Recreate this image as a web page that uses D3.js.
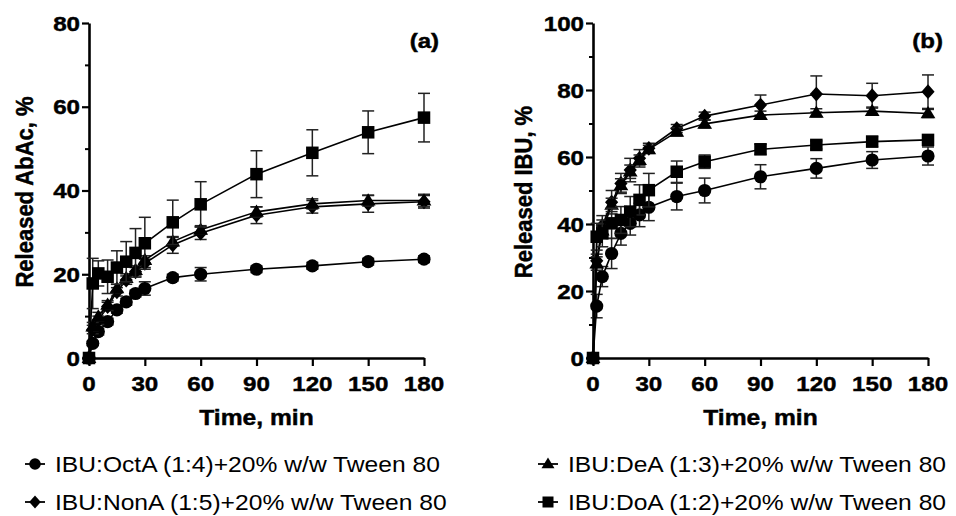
<!DOCTYPE html>
<html>
<head>
<meta charset="utf-8">
<style>
  body { margin: 0; background: #fff; }
  svg { display: block; background: #fff; font-family: "Liberation Sans", Arial, sans-serif; }
</style>
</head>
<body>
<div id="chart"></div>
<script src="https://d3js.org/d3.v7.min.js"></script>
<script>
// sampling times, min
var times = [0, 2, 5, 10, 15, 20, 25, 30, 45, 60, 90, 120, 150, 180];

// panel (a): released AbAc, %
var octA_a = [0, 3.5, 6.3, 8.7, 11.5, 13.4, 15.4, 16.6, 19.2, 20.0, 21.2, 22.0, 23.0, 23.6];
var octA_a_sd = [0, 0.5, 0.8, 0.8, 0.8, 0.8, 0.8, 1.6, 0.8, 1.6, 0.8, 0.8, 0.8, 0.8];
var nonA_a = [0, 6.8, 9.0, 12.3, 15.8, 18.6, 20.6, 22.6, 27.0, 29.8, 34.1, 36.1, 36.8, 37.3];
var nonA_a_sd = [0, 1, 1, 1, 1, 1, 1, 1, 2, 1.5, 2, 1.5, 2, 1.5];
var deA_a = [0, 7.5, 9.9, 12.7, 16.6, 19.1, 21.0, 23.4, 27.8, 30.6, 34.9, 36.8, 37.6, 37.6];
var deA_a_sd = [0, 1, 1, 1, 1, 1, 1, 1, 1, 1, 1.2, 1.2, 1.3, 1.5];
var doA_a = [0, 17.8, 20.2, 19.4, 21.6, 23.0, 25.1, 27.4, 32.4, 36.7, 43.9, 49.0, 53.9, 57.4];
var doA_a_sd = [0, 6, 3, 4, 4, 4.8, 5.8, 6.2, 5.3, 5.4, 5.6, 5.5, 5.1, 5.8];

// panel (b): released IBU, %
var octA_b = [0, 15.5, 24.3, 31.2, 37.2, 40.2, 42.7, 45.0, 48.2, 50.0, 54.1, 56.6, 59.1, 60.3];
var octA_b_sd = [0, 3.5, 3, 4.5, 3.5, 3.5, 3.5, 4, 4, 3.7, 3.6, 2.9, 2.5, 2.7];
var nonA_b = [0, 29, 39.5, 46.5, 52.1, 56.1, 59.6, 62.6, 68.5, 72.2, 75.5, 78.8, 78.3, 79.5];
var nonA_b_sd = [0, 2, 3, 3.5, 3, 3.5, 2.6, 1.5, 1.2, 1.2, 3, 5.4, 3.7, 5];
var deA_b = [0, 28.2, 38, 45.7, 51.5, 55.6, 59.1, 62.3, 67.5, 69.9, 72.5, 73.2, 73.7, 73.0];
var deA_b_sd = [0, 2, 2, 2, 2, 2, 1.5, 1.2, 1.2, 1.2, 1.2, 1.2, 1.2, 1.2];
var doA_b = [0, 36.2, 37.2, 40.2, 41.2, 43.7, 47.2, 50.1, 55.6, 58.6, 62.3, 63.6, 64.6, 65.1];
var doA_b_sd = [0, 4, 4, 4.5, 4, 4.5, 4.5, 5, 3.2, 2, 1.5, 1.2, 1.5, 1.5];

var seriesNames = [
  "IBU:OctA (1:4)+20% w/w Tween 80",
  "IBU:NonA (1:5)+20% w/w Tween 80",
  "IBU:DeA (1:3)+20% w/w Tween 80",
  "IBU:DoA (1:2)+20% w/w Tween 80"
];
var seriesSymbols = ["circle", "diamond", "triangle", "square"];

var xTicks = [0, 30, 60, 90, 120, 150, 180];
var yTicksA = [0, 20, 40, 60, 80];
var yTicksB = [0, 20, 40, 60, 80, 100];

var width = 956, height = 516;
var svg = d3.select("#chart").append("svg")
  .attr("width", width)
  .attr("height", height);

// the source picture is a little wider than tall, so text gets stretched in x
function label(g, x, y, str, opt) {
  var sx = opt.sx || 1;
  var tr = "translate(" + x + "," + y + ") scale(" + sx + ",1)";
  if (opt.rotate) tr += " rotate(" + opt.rotate + ")";
  var t = g.append("text")
    .attr("transform", tr)
    .attr("text-anchor", opt.anchor || "start")
    .style("font-size", opt.size + "px")
    .style("font-weight", opt.bold ? "bold" : "normal")
    .attr("fill", "#000")
    .text(str);
  if (opt.bold) t.attr("stroke", "#000").attr("stroke-width", 0.45);
  return t;
}

function markerPath(kind, r) {
  if (kind == "circle") return d3.symbol(d3.symbolCircle, Math.PI * r * r)();
  if (kind == "square") return d3.symbol(d3.symbolSquare, 4 * r * r * 0.9)();
  if (kind == "triangle") {
    var h = r * 1.85, w = r * 1.12;
    return "M0," + (-h * 0.6) + "L" + w + "," + (h * 0.4) + "L" + (-w) + "," + (h * 0.4) + "Z";
  }
  // diamond
  var dw = r * 1.0, dh = r * 1.12;
  return "M0," + (-dh) + "L" + dw + ",0L0," + dh + "L" + (-dw) + ",0Z";
}

function drawPanel(cfg) {
  var g = svg.append("g");
  var x = d3.scaleLinear().domain([0, 180]).range([cfg.left, cfg.right]);
  var y = d3.scaleLinear().domain([0, cfg.ymax]).range([358, 23]);

  // minor y ticks
  var minor = d3.range(10, cfg.ymax, 20);
  g.append("g")
    .attr("transform", "translate(" + cfg.left + ",0)")
    .call(d3.axisLeft(y).tickValues(minor).tickSize(4).tickFormat(""))
    .call(function(a) { a.select(".domain").remove(); })
    .selectAll("line").attr("stroke-width", 2);

  g.append("g")
    .attr("transform", "translate(" + cfg.left + ",0)")
    .call(d3.axisLeft(y).tickValues(cfg.yticks).tickSize(7).tickSizeOuter(0).tickFormat(""))
    .call(function(a) {
      a.select(".domain").attr("stroke-width", 2.6);
      a.selectAll("line").attr("stroke-width", 2.2);
    });

  g.append("g")
    .attr("transform", "translate(0," + y(0) + ")")
    .call(d3.axisBottom(x).tickValues(xTicks).tickSize(8).tickSizeOuter(0).tickFormat(""))
    .call(function(a) {
      a.select(".domain").attr("stroke-width", 2.6);
      a.selectAll("line").attr("stroke-width", 2.2);
    });

  cfg.yticks.forEach(function(v) {
    label(g, cfg.left - 9, y(v) + 7.5, String(v), {size: 21, bold: true, sx: 1.15, anchor: "end"});
  });
  xTicks.forEach(function(v) {
    label(g, x(v), 391, String(v), {size: 21, bold: true, sx: 1.15, anchor: "middle"});
  });

  label(g, (cfg.left + cfg.right) / 2, 425, "Time, min", {size: 22, bold: true, sx: 1.12, anchor: "middle"});
  label(g, cfg.titleX, 192, cfg.title, {size: 22, bold: true, sx: 1.12, anchor: "middle", rotate: -90});
  label(g, cfg.right + 15, 48, cfg.tag, {size: 20, bold: true, sx: 1.2, anchor: "end"});

  var line = d3.line()
    .x(function(d) { return x(d.t); })
    .y(function(d) { return y(d.v); });

  cfg.series.forEach(function(s, i) {
    var pts = times.map(function(t, j) { return {t: t, v: s.v[j], e: s.e[j]}; });
    var sg = g.append("g");

    // error bars first, then line, then markers
    var eb = sg.selectAll(".err").data(pts.filter(function(d) { return d.e > 0; }))
      .enter().append("g").attr("class", "err");
    eb.append("line")
      .attr("x1", function(d) { return x(d.t); })
      .attr("x2", function(d) { return x(d.t); })
      .attr("y1", function(d) { return y(d.v - d.e); })
      .attr("y2", function(d) { return y(d.v + d.e); })
      .attr("stroke", "#222").attr("stroke-width", 1.5);
    [-1, 1].forEach(function(sgn) {
      eb.append("line")
        .attr("x1", function(d) { return x(d.t) - 6; })
        .attr("x2", function(d) { return x(d.t) + 6; })
        .attr("y1", function(d) { return y(d.v + sgn * d.e); })
        .attr("y2", function(d) { return y(d.v + sgn * d.e); })
        .attr("stroke", "#222").attr("stroke-width", 1.5);
    });

    sg.append("path")
      .datum(pts)
      .attr("d", line)
      .attr("fill", "none")
      .attr("stroke", "#000")
      .attr("stroke-width", 1.6);

    sg.selectAll(".mk").data(pts)
      .enter().append("path")
      .attr("class", "mk")
      .attr("transform", function(d) { return "translate(" + x(d.t) + "," + y(d.v) + ")"; })
      .attr("d", markerPath(seriesSymbols[i], 6.6))
      .attr("fill", "#000");
  });
}

drawPanel({
  left: 89, right: 424, ymax: 80, yticks: yTicksA, tag: "(a)",
  title: "Released AbAc, %", titleX: 33,
  series: [
    {v: octA_a, e: octA_a_sd},
    {v: nonA_a, e: nonA_a_sd},
    {v: deA_a, e: deA_a_sd},
    {v: doA_a, e: doA_a_sd}
  ]
});

drawPanel({
  left: 593, right: 928, ymax: 100, yticks: yTicksB, tag: "(b)",
  title: "Released IBU, %", titleX: 532,
  series: [
    {v: octA_b, e: octA_b_sd},
    {v: nonA_b, e: nonA_b_sd},
    {v: deA_b, e: deA_b_sd},
    {v: doA_b, e: doA_b_sd}
  ]
});

// legend, two columns
var legendPos = [[35, 464], [35, 502], [548, 464], [548, 502]];
var lg = svg.append("g");
seriesNames.forEach(function(name, i) {
  var p = legendPos[i];
  lg.append("line")
    .attr("x1", p[0] - 10).attr("x2", p[0] + 10)
    .attr("y1", p[1]).attr("y2", p[1])
    .attr("stroke", "#000").attr("stroke-width", 1.8);
  lg.append("path")
    .attr("transform", "translate(" + p[0] + "," + p[1] + ")")
    .attr("d", markerPath(seriesSymbols[i], 5.8))
    .attr("fill", "#000");
  label(lg, p[0] + 20, p[1] + 8, name, {size: 22, sx: 1.12});
});
</script>
</body>
</html>
